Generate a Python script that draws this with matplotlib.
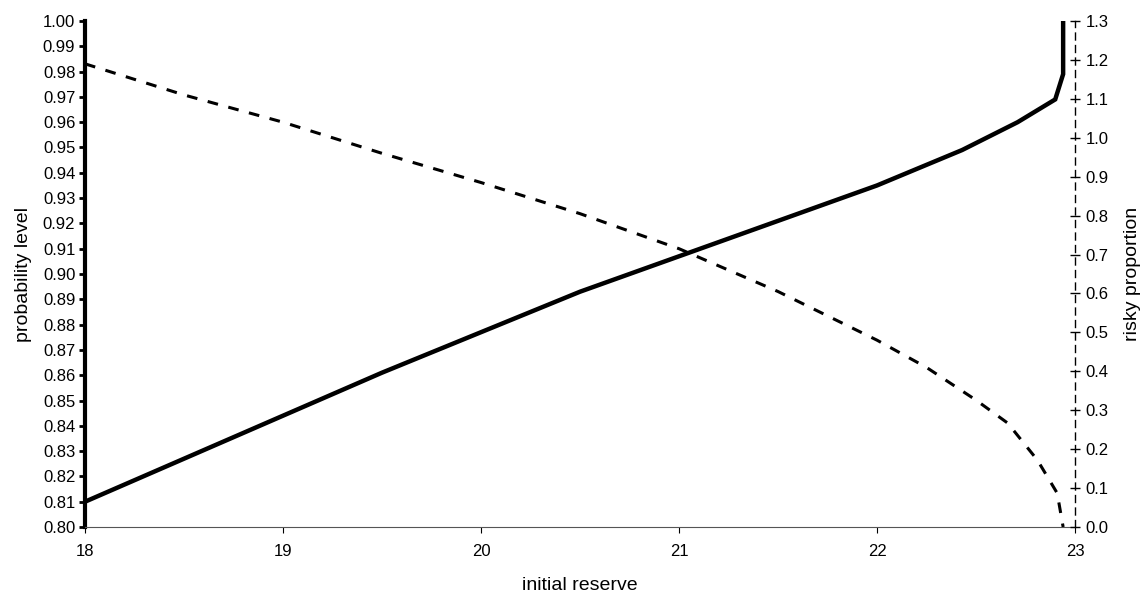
import matplotlib.pyplot as plt
import numpy as np

plt.rcParams['font.family'] = ['Liberation Sans', 'DejaVu Sans']

# probability level (left axis) against initial reserve
reserve_prob = [18.0, 18.5, 19.0, 19.5, 20.0, 20.5, 21.0, 21.5, 22.0, 22.43, 22.71, 22.9, 22.94, 22.94]
prob_level = [0.810, 0.827, 0.844, 0.861, 0.877, 0.893, 0.907, 0.921, 0.935, 0.949, 0.960, 0.969, 0.979, 1.000]

# risky proportion (right axis) against initial reserve
reserve_risky = [18.0, 18.5, 19.0, 19.5, 20.0, 20.5, 21.0, 21.5, 22.0, 22.25, 22.5, 22.66, 22.81, 22.91, 22.94]
risky_prop = [1.19, 1.11, 1.04, 0.96, 0.885, 0.805, 0.715, 0.605, 0.48, 0.41, 0.326, 0.267, 0.172, 0.087, 0.0]

x_ticks = [18, 19, 20, 21, 22, 23]
left_ticks = np.arange(0.80, 1.0001, 0.01)
right_ticks = np.arange(0.0, 1.3001, 0.1)

fig = plt.figure(figsize=(11.44, 5.98), dpi=100)
ax = fig.add_axes([0.0743, 0.1187, 0.8654, 0.8462])
ax2 = ax.twinx()

ax.plot(reserve_prob, prob_level, color='black', linewidth=3.2, solid_joinstyle='miter', zorder=3)
ax2.plot(reserve_risky, risky_prop, color='black', linewidth=2.2, linestyle=(0, (3.5, 3.5)))

ax.set_xlim(18, 23)
ax.set_ylim(0.80, 1.00)
ax2.set_ylim(0.0, 1.3)

ax.set_xticks(x_ticks)
ax.set_xticklabels([str(v) for v in x_ticks], fontsize=12)
ax.set_yticks(left_ticks)
ax.set_yticklabels(['%.2f' % v for v in left_ticks], fontsize=12)
ax2.set_yticks(right_ticks)
ax2.set_yticklabels(['%.1f' % v for v in right_ticks], fontsize=12)

ax.spines['top'].set_visible(False)
ax2.spines['top'].set_visible(False)
ax2.spines['left'].set_visible(False)
ax2.spines['bottom'].set_visible(False)
ax.spines['right'].set_visible(False)

ax.spines['left'].set_linewidth(3.0)
ax.spines['bottom'].set_linewidth(0.8)
ax.spines['bottom'].set_color('#555555')
ax2.spines['right'].set_linewidth(1.0)
ax2.spines['right'].set_linestyle((0, (5, 4)))

ax.tick_params(axis='y', direction='out', length=4, width=2.0, pad=3)
ax.tick_params(axis='x', direction='out', length=4, width=0.8, pad=8)
ax2.tick_params(axis='y', direction='inout', length=7, width=1.0, pad=4)

ax.set_xlabel('initial reserve', fontsize=14, labelpad=13)
ax.set_ylabel('probability level', fontsize=14, labelpad=8)
ax2.set_ylabel('risky proportion', fontsize=14, labelpad=11)

fig.savefig('out.png', dpi=100)
